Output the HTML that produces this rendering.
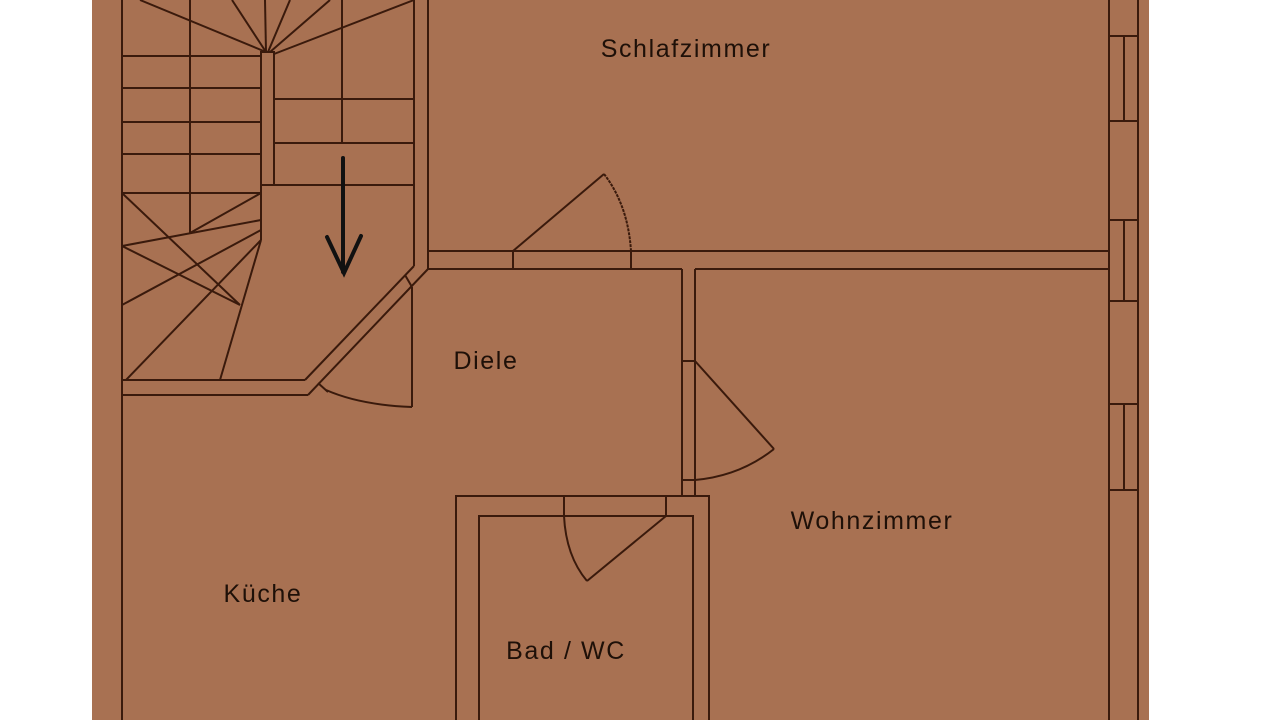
<!DOCTYPE html>
<html><head><meta charset="utf-8"><style>
html,body{margin:0;padding:0;background:#fff;}
svg{display:block;}
text{font-family:"Liberation Sans",sans-serif;font-size:25px;letter-spacing:1.6px;fill:#1e1008;}
</style></head><body>
<svg width="1280" height="720" viewBox="0 0 1280 720">
<rect x="0" y="0" width="1280" height="720" fill="#fff"/>
<rect x="92" y="0" width="1057" height="720" fill="#A87152"/>
<g stroke="#3a1a0c" stroke-width="2" fill="none">
<line x1="122" y1="0" x2="122" y2="720"/>
<line x1="1109" y1="0" x2="1109" y2="720"/>
<line x1="1138" y1="0" x2="1138" y2="720"/>
<line x1="1109" y1="36" x2="1138" y2="36"/><line x1="1109" y1="121" x2="1138" y2="121"/><line x1="1124" y1="36" x2="1124" y2="121"/>
<line x1="1109" y1="220" x2="1138" y2="220"/><line x1="1109" y1="301" x2="1138" y2="301"/><line x1="1124" y1="220" x2="1124" y2="301"/>
<line x1="1109" y1="404" x2="1138" y2="404"/><line x1="1109" y1="490" x2="1138" y2="490"/><line x1="1124" y1="404" x2="1124" y2="490"/>
<line x1="414" y1="0" x2="414" y2="266"/>
<line x1="428" y1="0" x2="428" y2="269"/>
<line x1="428" y1="251" x2="1109" y2="251"/>
<line x1="428" y1="269" x2="682" y2="269"/>
<line x1="695" y1="269" x2="1109" y2="269"/>
<line x1="513" y1="251" x2="513" y2="269"/>
<line x1="631" y1="251" x2="631" y2="269"/>
<line x1="513" y1="251" x2="604" y2="174"/>
<path d="M604,174 Q628,205 631,251" stroke-dasharray="3,1"/>
<line x1="682" y1="269" x2="682" y2="496"/>
<line x1="695" y1="269" x2="695" y2="496"/>
<line x1="682" y1="361" x2="695" y2="361"/>
<line x1="682" y1="480" x2="695" y2="480"/>
<line x1="695" y1="361" x2="774" y2="449"/>
<path d="M774,449 Q740,476 695,480"/>
<path d="M456,720 V496 H709 V720"/>
<path d="M479,720 V516 H693 V720"/>
<line x1="564" y1="496" x2="564" y2="516"/>
<line x1="666" y1="496" x2="666" y2="516"/>
<line x1="666" y1="516" x2="587" y2="581"/>
<path d="M564,516 Q566,556 587,581"/>
<line x1="122" y1="380" x2="305" y2="380"/>
<line x1="122" y1="395" x2="308" y2="395"/>
<line x1="305" y1="380" x2="414" y2="266"/>
<line x1="308" y1="395" x2="428" y2="269"/>
<line x1="405" y1="275" x2="412" y2="287"/>
<line x1="318" y1="383" x2="328" y2="392"/>
<line x1="412" y1="287" x2="412" y2="407"/>
<path d="M326,390 Q360,405 412,407"/>
<line x1="190" y1="0" x2="190" y2="233"/>
<line x1="122" y1="56" x2="261" y2="56"/>
<line x1="122" y1="88" x2="261" y2="88"/>
<line x1="122" y1="122" x2="261" y2="122"/>
<line x1="122" y1="154" x2="261" y2="154"/>
<line x1="122" y1="193" x2="261" y2="193"/>
<rect x="261" y="52" width="13" height="133"/>
<line x1="261" y1="185" x2="261" y2="240"/>
<line x1="342" y1="0" x2="342" y2="143"/>
<line x1="274" y1="99" x2="414" y2="99"/>
<line x1="274" y1="143" x2="414" y2="143"/>
<line x1="274" y1="185" x2="414" y2="185"/>
<line x1="266" y1="52" x2="140" y2="0"/>
<line x1="266" y1="52" x2="232" y2="0"/>
<line x1="266" y1="52" x2="265" y2="0"/>
<line x1="268" y1="52" x2="290" y2="0"/>
<line x1="270" y1="52" x2="330" y2="0"/>
<line x1="274" y1="54" x2="414" y2="0"/>
<line x1="122" y1="193" x2="240" y2="305"/>
<line x1="240" y1="305" x2="122" y2="246"/>
<line x1="122" y1="246" x2="261" y2="220"/>
<line x1="122" y1="305" x2="261" y2="230"/>
<line x1="126" y1="380" x2="261" y2="240"/>
<line x1="220" y1="380" x2="261" y2="240"/>
<line x1="190" y1="233" x2="261" y2="193"/>
</g>
<g stroke="#111" stroke-width="4" fill="none" stroke-linecap="round">
<line x1="343" y1="158" x2="343" y2="272"/>
<polyline points="327,237 344,273 361,236"/>
</g>
<text x="686" y="57" text-anchor="middle">Schlafzimmer</text>
<text x="486" y="369" text-anchor="middle">Diele</text>
<text x="872" y="529" text-anchor="middle">Wohnzimmer</text>
<text x="263" y="602" text-anchor="middle">Küche</text>
<text x="566" y="659" text-anchor="middle">Bad / WC</text>
</svg>
</body></html>
